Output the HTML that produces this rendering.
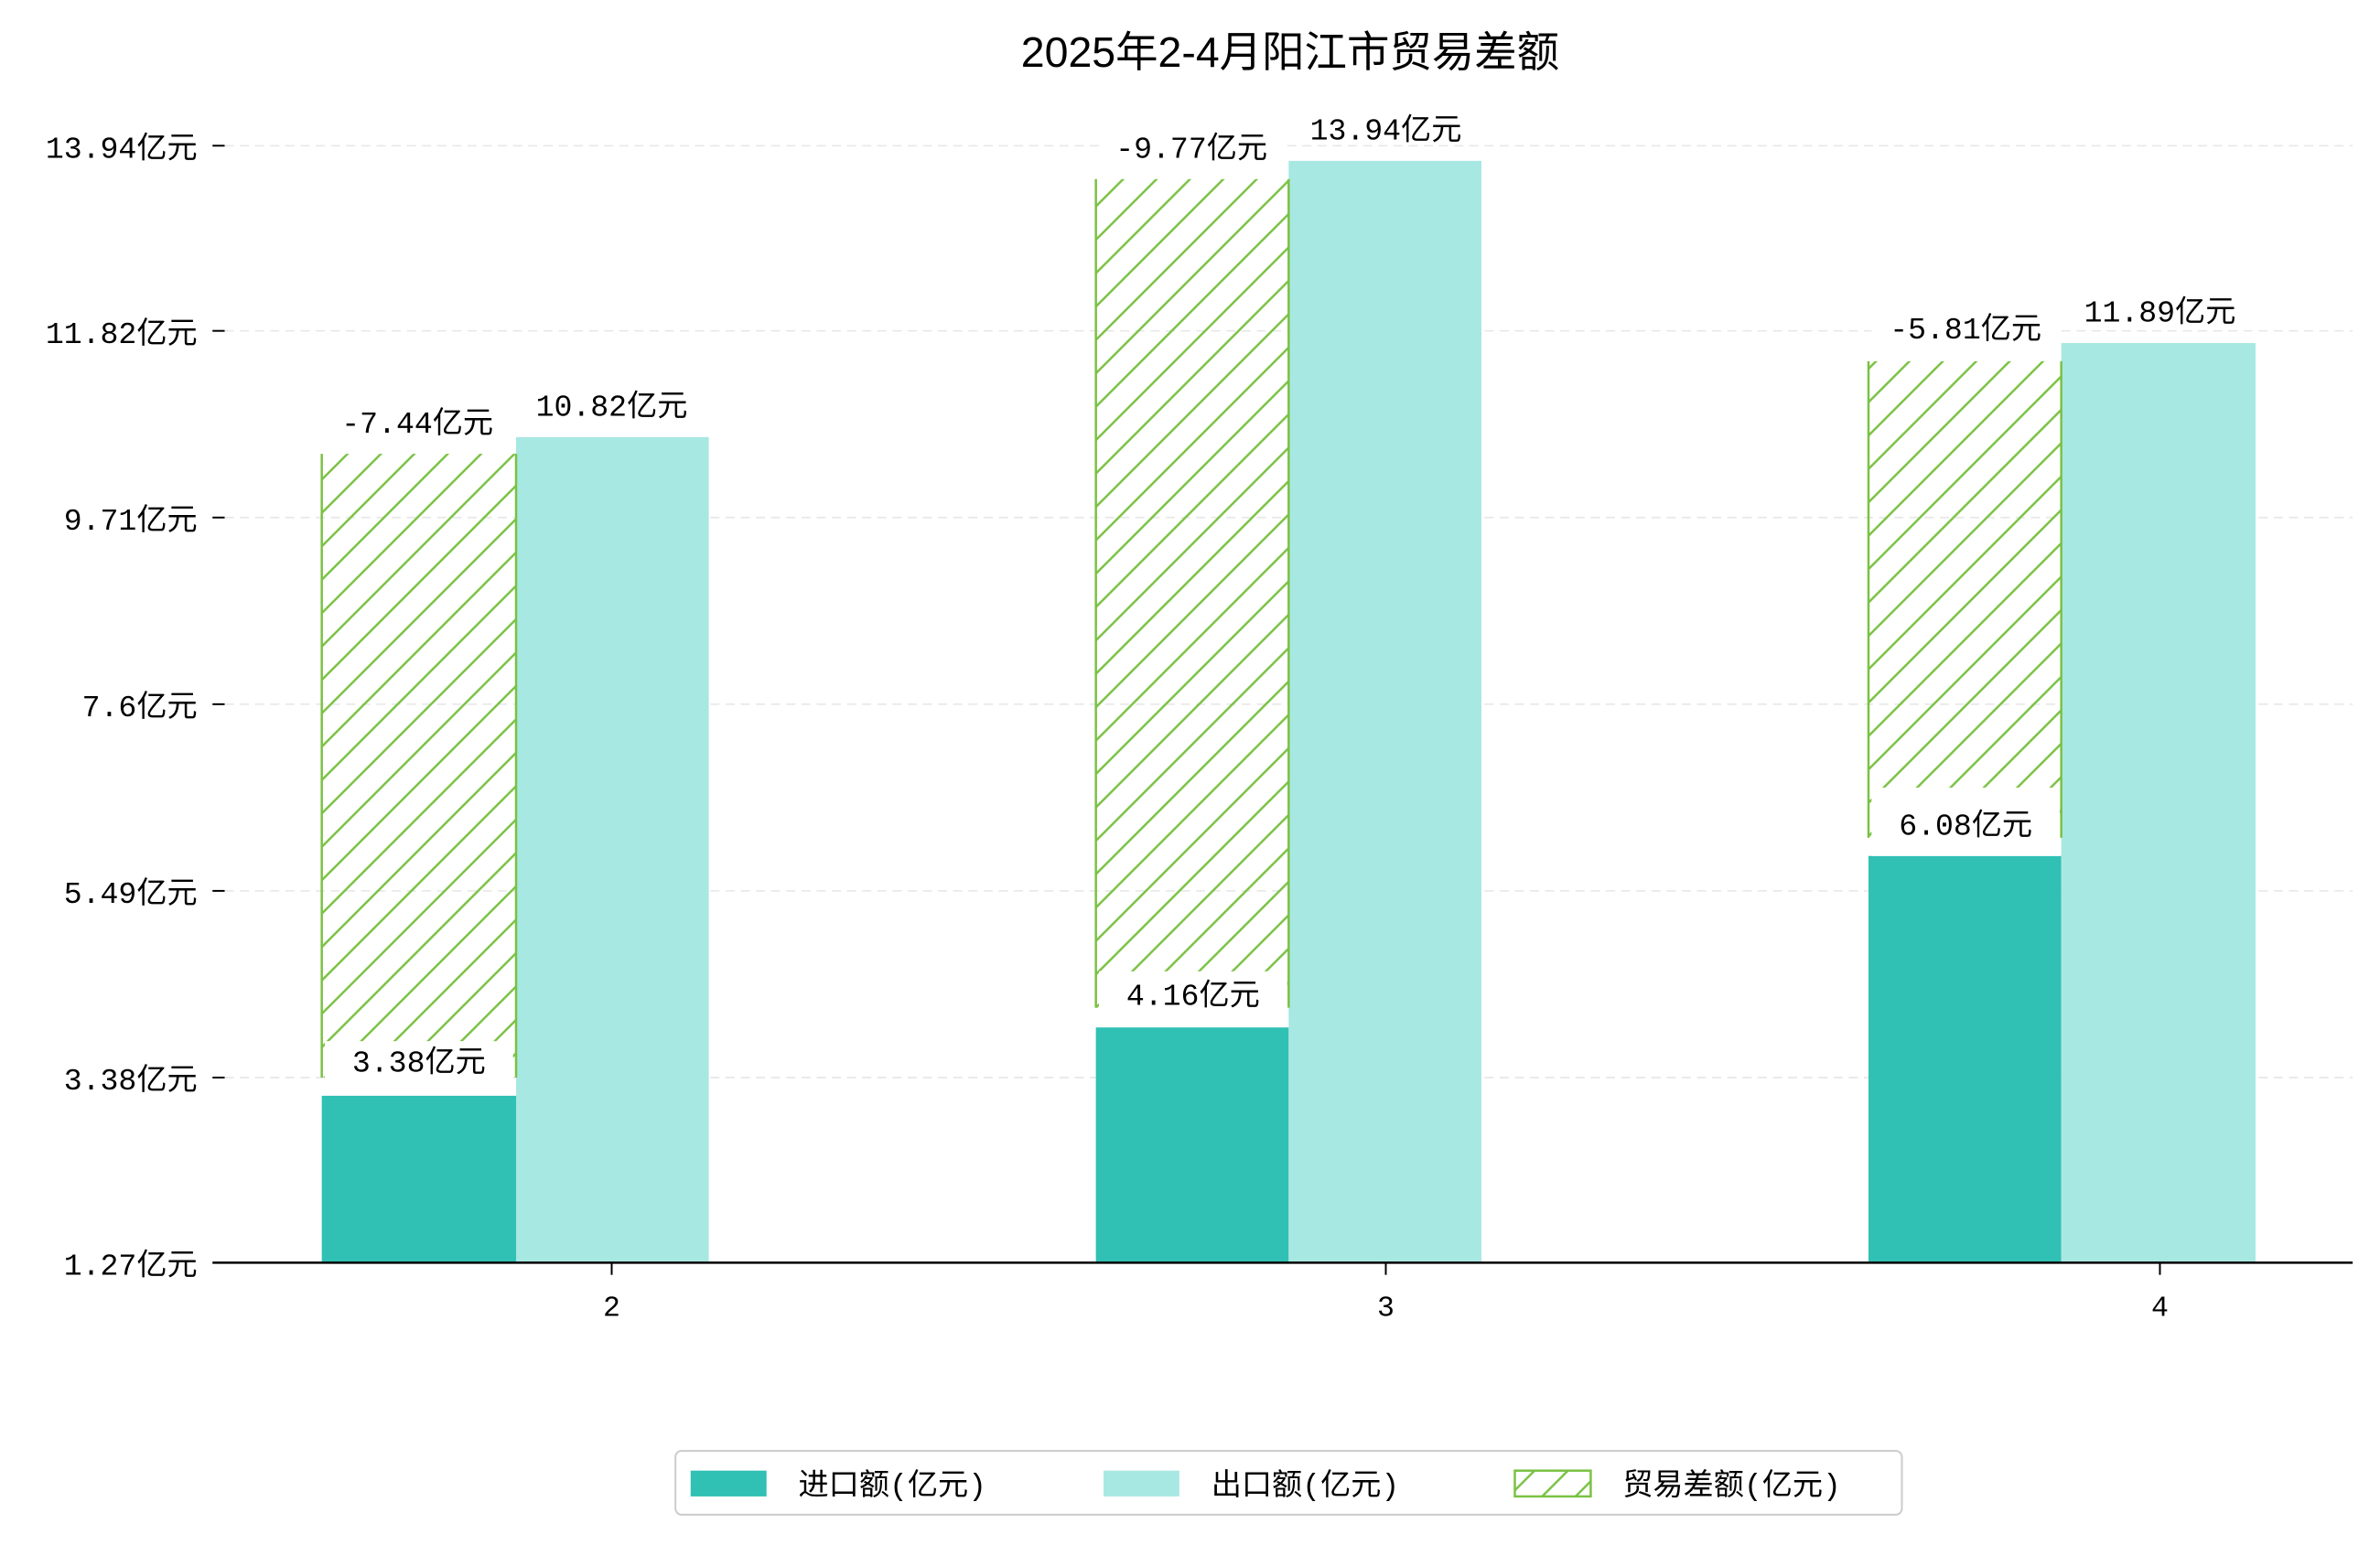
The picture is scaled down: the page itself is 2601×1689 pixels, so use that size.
<!DOCTYPE html>
<html><head><meta charset="utf-8"><style>
html,body{margin:0;padding:0;background:#fff}
svg{display:block}
text{font-family:"Liberation Mono","Noto Sans CJK SC",monospace;fill:#000}
.t{font-family:"Liberation Sans","Noto Sans CJK SC",sans-serif}
</style></head><body>
<svg width="2601" height="1689" viewBox="0 0 1568 1018" preserveAspectRatio="none" xmlns="http://www.w3.org/2000/svg">
<defs>
<pattern id="h" patternUnits="userSpaceOnUse" width="22" height="22">
<path d="M-2,24 L24,-2 M-13,13 L13,-13 M9,35 L35,9" stroke="#7ac143" stroke-width="1.5"/>
</pattern>
</defs>
<rect width="1568" height="1018" fill="#fff"/>
<text class="t" x="850" y="44" font-size="28" text-anchor="middle">2025年2-4月阳江市贸易差额</text>
<g stroke="#e8e8e8" stroke-dasharray="6,4" stroke-width="1">
<line x1="148" y1="96" x2="1550" y2="96"/><line x1="148" y1="218" x2="1550" y2="218"/>
<line x1="148" y1="341" x2="1550" y2="341"/><line x1="148" y1="464" x2="1550" y2="464"/>
<line x1="148" y1="587" x2="1550" y2="587"/><line x1="148" y1="710" x2="1550" y2="710"/>
</g>
<g stroke="#000" stroke-width="1.2">
<line x1="140" y1="96" x2="148" y2="96"/><line x1="140" y1="218" x2="148" y2="218"/>
<line x1="140" y1="341" x2="148" y2="341"/><line x1="140" y1="464" x2="148" y2="464"/>
<line x1="140" y1="587" x2="148" y2="587"/><line x1="140" y1="710" x2="148" y2="710"/>
<line x1="403" y1="832" x2="403" y2="840"/><line x1="913" y1="832" x2="913" y2="840"/><line x1="1423" y1="832" x2="1423" y2="840"/>
</g>
<g font-size="20" text-anchor="end">
<text x="130" y="104">13.94亿元</text><text x="130" y="226">11.82亿元</text>
<text x="130" y="349">9.71亿元</text><text x="130" y="472">7.6亿元</text>
<text x="130" y="595">5.49亿元</text><text x="130" y="718">3.38亿元</text>
<text x="130" y="840">1.27亿元</text>
</g>
<g font-size="19" text-anchor="middle">
<text x="403" y="867">2</text><text x="913" y="867">3</text><text x="1423" y="867">4</text>
</g>
<g fill="#30c0b4">
<rect x="212" y="722" width="128" height="110"/>
<rect x="722" y="677" width="127" height="155"/>
<rect x="1231" y="564" width="127" height="268"/>
</g>
<g fill="#a8e8e2">
<rect x="340" y="288" width="127" height="544"/>
<rect x="849" y="106" width="127" height="726"/>
<rect x="1358" y="226" width="128" height="606"/>
</g>
<g stroke="#7ac143" stroke-width="1.5">
<rect x="212" y="299" width="128" height="411" fill="url(#h)" stroke="none"/>
<line x1="212" y1="299" x2="212" y2="710"/><line x1="340" y1="299" x2="340" y2="710"/>
<rect x="722" y="118" width="127" height="546" fill="url(#h)" stroke="none"/>
<line x1="722" y1="118" x2="722" y2="664"/><line x1="849" y1="118" x2="849" y2="664"/>
<rect x="1231" y="238" width="127" height="314" fill="url(#h)" stroke="none"/>
<line x1="1231" y1="238" x2="1231" y2="552"/><line x1="1358" y1="238" x2="1358" y2="552"/>
</g>
<g fill="#fff">
<rect x="214" y="686" width="124" height="34"/>
<rect x="724" y="640" width="124" height="36"/>
<rect x="1233" y="519" width="124" height="45"/>
<rect x="214" y="262" width="124" height="36"/>
<rect x="724" y="81" width="124" height="36"/>
<rect x="1233" y="201" width="124" height="36"/>
</g>
<g font-size="20" text-anchor="middle">
<text x="276" y="706">3.38亿元</text>
<text x="786" y="662">4.16亿元</text>
<text x="1295" y="550">6.08亿元</text>
<text x="275" y="285">-7.44亿元</text>
<text x="403" y="274">10.82亿元</text>
<text x="785" y="104">-9.77亿元</text>
<text x="913" y="92">13.94亿元</text>
<text x="1295" y="223">-5.81亿元</text>
<text x="1423" y="212">11.89亿元</text>
</g>
<line x1="140" y1="832" x2="1550" y2="832" stroke="#000" stroke-width="1.5"/>
<rect x="445" y="956" width="808" height="42" rx="4" fill="#fff" stroke="#ccc" stroke-width="1.2"/>
<rect x="455" y="969" width="50" height="17" fill="#30c0b4"/>
<rect x="727" y="969" width="50" height="17" fill="#a8e8e2"/>
<rect x="998" y="969" width="50" height="17" fill="url(#h)" stroke="#7ac143" stroke-width="1.5"/>
<g font-size="20">
<text x="526" y="985">进口额(亿元)</text>
<text x="798" y="985">出口额(亿元)</text>
<text x="1069" y="985">贸易差额(亿元)</text>
</g>
</svg>
</body></html>
